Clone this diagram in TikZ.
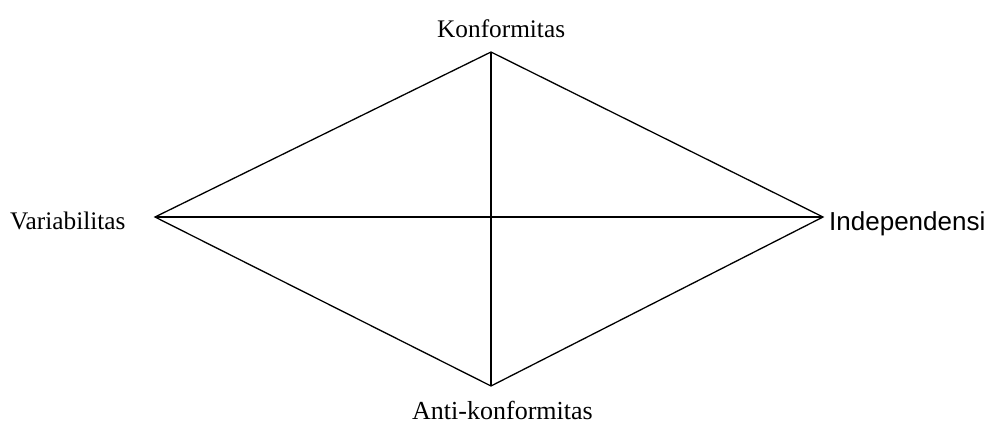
\documentclass[tikz,border=0pt]{standalone}
\usepackage{fontspec}
\setmainfont{Liberation Serif}
\newfontfamily\arialfont{Liberation Sans}
\begin{document}
\begin{tikzpicture}[x=1pt,y=-1pt,
  edge/.style={draw=black,line width=1.3pt},
  lbl/.style={inner sep=0pt,anchor=base west,font=\fontsize{25.3}{28}\selectfont}]
\useasboundingbox (0,0) rectangle (992,424);
\coordinate (T) at (491,52);
\coordinate (B) at (491,386);
\coordinate (L) at (155,217);
\coordinate (R) at (823,217);
\draw[edge,line join=miter] (T) -- (R) -- (B) -- (L) -- cycle;
\draw[edge] (T) -- (B);
\draw[edge] (L) -- (R);
\node[lbl] (kon) at (437,37.5) {Konformitas};
\node[lbl,font=\fontsize{26}{29}\selectfont] (anti) at (412,419) {Anti-konformitas};
\node[lbl] (var) at (10,229) {Variabilitas};
\node[lbl,font=\arialfont\fontsize{26}{29}\selectfont] (ind) at (829,230) {Independensi};
\end{tikzpicture}
\end{document}
